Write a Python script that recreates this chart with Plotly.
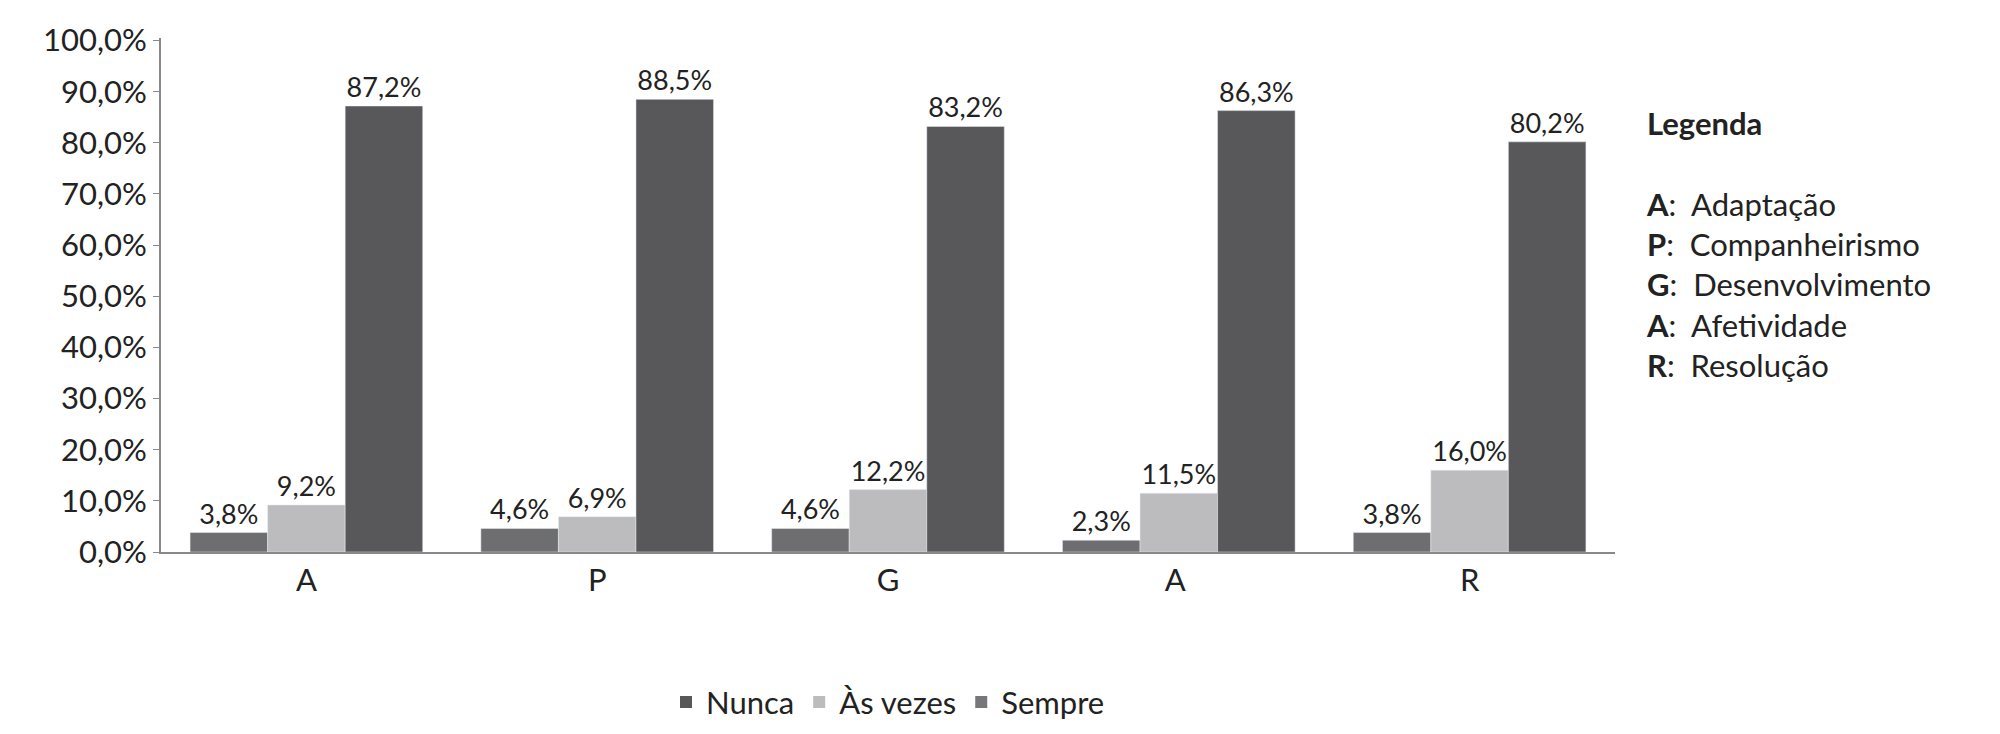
import plotly.graph_objects as go

categories = ["A", "P", "G", "A ", "R"]
nunca = [3.8, 4.6, 4.6, 2.3, 3.8]
as_vezes = [9.2, 6.9, 12.2, 11.5, 16.0]
sempre = [87.2, 88.5, 83.2, 86.3, 80.2]
y_ticks = [0, 10, 20, 30, 40, 50, 60, 70, 80, 90, 100]
legend_lines = [("A", "Adaptação"), ("P", "Companheirismo"), ("G", "Desenvolvimento"),
                ("A", "Afetividade"), ("R", "Resolução")]

FONT = "Lato"
bar_colors = ["#6e6e71", "#bcbcbe", "#58585a"]
legend_colors = ["#58585a", "#bcbcbe", "#77777a"]
names = ["Nunca", "Às vezes", "Sempre"]


def fmt(v):
    return f"{v:.1f}%".replace(".", ",")


fig = go.Figure()
for vals, col, name in zip([nunca, as_vezes, sempre], bar_colors, names):
    fig.add_trace(go.Bar(
        x=categories, y=vals, marker_color=col, showlegend=False,
        text=[fmt(v) for v in vals], textposition="outside", constraintext="none",
        textfont=dict(size=27, color="#222"), cliponaxis=False,
    ))
# legend swatches (as in the original, which differ from the bar shades)
for col, name in zip(legend_colors, names):
    fig.add_trace(go.Scatter(x=[None], y=[None], mode="markers", name=name,
                             marker=dict(symbol="square", size=22, color=col)))

legend_text = "<b>Legenda</b><br><br>" + "<br>".join(
    f"<b>{k}</b>:  {v}" for k, v in legend_lines)
fig.add_annotation(xref="paper", yref="paper", x=1.02, y=0.6, xanchor="left",
                   yanchor="middle", align="left", showarrow=False,
                   text=legend_text, font=dict(size=31, family=FONT, color="#222"))

fig.update_layout(
    width=2000, height=734, plot_bgcolor="white", paper_bgcolor="white",
    font=dict(family=FONT, color="#222"),
    margin=dict(l=153, r=393, t=18, b=160),
    barmode="group", bargap=0.2, bargroupgap=0,
    legend=dict(orientation="h", x=0.5, xanchor="center", y=-0.24, yanchor="top",
                font=dict(size=31), itemsizing="constant", traceorder="normal"),
)
fig.update_xaxes(showline=True, linecolor="#888", linewidth=2,
                 tickfont=dict(size=31), ticks="")
fig.update_yaxes(range=[0, 100.5], tickvals=y_ticks,
                 ticktext=[fmt(v) for v in y_ticks], showgrid=False,
                 showline=True, linecolor="#888", linewidth=2, ticks="outside",
                 ticklen=6, tickcolor="#888", tickfont=dict(size=31))

fig.write_html("out.html")
